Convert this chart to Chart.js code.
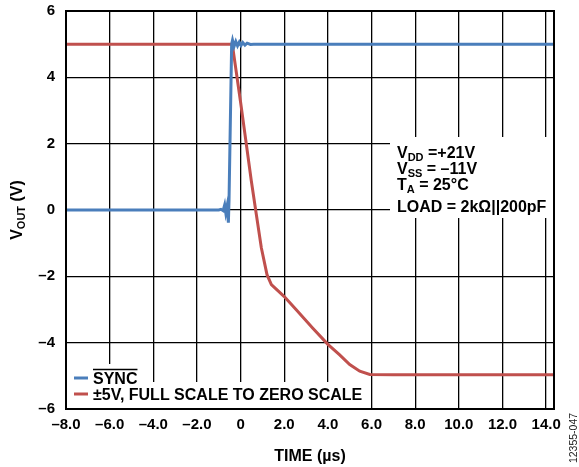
<!DOCTYPE html>
<html>
<head>
<meta charset="utf-8">
<script src="https://cdn.jsdelivr.net/npm/chart.js@4/dist/chart.umd.min.js"></script>
<style>
  body { margin: 0; background: #fff; }
  #wrap { width: 579px; height: 467px; }
</style>
</head>
<body>
<div id="wrap"><canvas id="c" width="579" height="467"></canvas></div>
<script>
// data
const syncTime = [-8, -1.0, -0.9, -0.8, -0.73, -0.68, -0.62, -0.56, -0.53, -0.41, -0.37, -0.3, -0.22, -0.14, -0.06, 0.02, 0.1, 0.2, 0.3, 0.45, 0.6, 14.36];
const syncVolts = [0, 0, 0.02, -0.02, 0.15, -0.08, 0.12, -0.38, 0.3, 5.0, 5.12, 4.93, 5.08, 4.95, 5.06, 4.96, 5.05, 4.97, 5.03, 4.99, 5.0, 5.0];

const outTime = [-8, -0.38, 0, 0.3, 0.49, 0.69, 0.95, 1.21, 1.41, 2.0, 2.55, 3.32, 4.0, 4.54, 5.0, 5.46, 5.92, 7.0, 14.36];
const outVolts = [5, 5, 3.25, 1.8, 0.88, 0, -1.14, -1.95, -2.25, -2.61, -3.01, -3.57, -4.05, -4.37, -4.66, -4.86, -4.96, -4.97, -4.97];

const xTicks = [-8, -6, -4, -2, 0, 2, 4, 6, 8, 10, 12, 14];
const xTickLabels = ["–8.0", "–6.0", "–4.0", "–2.0", "0", "2.0", "4.0", "6.0", "8.0", "10.0", "12.0", "14.0"];
const yTicks = [-6, -4, -2, 0, 2, 4, 6];
const yTickLabels = ["–6", "–4", "–2", "0", "2", "4", "6"];

const seriesNames = ["SYNC", "±5V, FULL SCALE TO ZERO SCALE"];
const seriesColors = ["#4a7ebb", "#c0504d"];

// [main, subscript, rest]
const conditions = [
  ["V", "DD", " =+21V"],
  ["V", "SS", " = –11V"],
  ["T", "A", " = 25°C"],
  ["LOAD = 2kΩ||200pF", "", ""]
];

const FONT = "'Liberation Sans', Arial, sans-serif";

const toPoints = (xs, ys) => xs.map((x, i) => ({ x: x, y: ys[i] }));

// draws text with a subscript part, returns end x
function subText(ctx, x, y, parts, size, subSize) {
  ctx.font = "bold " + size + "px " + FONT;
  ctx.fillText(parts[0], x, y);
  x += ctx.measureText(parts[0]).width;
  if (parts[1]) {
    ctx.font = "bold " + subSize + "px " + FONT;
    ctx.fillText(parts[1], x, y + 3);
    x += ctx.measureText(parts[1]).width;
  }
  if (parts[2]) {
    ctx.font = "bold " + size + "px " + FONT;
    ctx.fillText(parts[2], x, y);
    x += ctx.measureText(parts[2]).width;
  }
  return x;
}

const decorations = {
  id: "decorations",
  beforeDatasetsDraw(chart) {
    const ctx = chart.ctx;
    const a = chart.chartArea;
    // white boxes behind legend and condition text
    ctx.save();
    ctx.fillStyle = "#fff";
    ctx.fillRect(a.left + 1, 364, 74, 20);
    ctx.fillRect(a.left + 1, 382, 301, a.bottom - 382);
    ctx.fillRect(390, 137, a.right - 391, 81);
    ctx.restore();
  },
  afterDatasetsDraw(chart) {
    const ctx = chart.ctx;
    const a = chart.chartArea;
    ctx.save();
    // frame
    ctx.strokeStyle = "#000";
    ctx.lineWidth = 2;
    ctx.strokeRect(a.left, a.top, a.right - a.left, a.bottom - a.top);

    ctx.fillStyle = "#000";
    ctx.textBaseline = "alphabetic";
    ctx.textAlign = "left";

    // legend
    const legendY = [378, 394];
    const baseY = [384, 400];
    seriesNames.forEach((name, i) => {
      ctx.strokeStyle = seriesColors[i];
      ctx.lineWidth = 3;
      ctx.beginPath();
      ctx.moveTo(74, legendY[i]);
      ctx.lineTo(88, legendY[i]);
      ctx.stroke();
      ctx.font = "bold 16px " + FONT;
      ctx.fillText(name, 93, baseY[i]);
      if (i === 0) {
        const w = ctx.measureText(name).width;
        ctx.strokeStyle = "#000";
        ctx.lineWidth = 1.5;
        ctx.beginPath();
        ctx.moveTo(93, 369.5);
        ctx.lineTo(93 + w, 369.5);
        ctx.stroke();
      }
    });

    // test conditions
    const condY = [158, 174, 190, 212];
    conditions.forEach((c, i) => subText(ctx, 397, condY[i], c, 16, 11));

    // y axis title
    ctx.save();
    ctx.translate(16, (a.top + a.bottom) / 2);
    ctx.rotate(-Math.PI / 2);
    const yParts = ["V", "OUT", " (V)"];
    ctx.font = "bold 16px " + FONT;
    let w = ctx.measureText("V").width + ctx.measureText(" (V)").width;
    ctx.font = "bold 11px " + FONT;
    w += ctx.measureText("OUT").width;
    subText(ctx, -w / 2, 6, yParts, 16, 11);
    ctx.restore();

    // figure code
    ctx.save();
    ctx.translate(573, 438);
    ctx.rotate(-Math.PI / 2);
    ctx.textAlign = "center";
    ctx.font = "10.5px " + FONT;
    ctx.fillStyle = "#222";
    ctx.fillText("12355-047", 0, 4);
    ctx.restore();

    ctx.restore();
  }
};

new Chart(document.getElementById("c"), {
  type: "line",
  data: {
    datasets: [
      {
        label: seriesNames[0],
        data: toPoints(syncTime, syncVolts),
        borderColor: seriesColors[0],
        borderWidth: 3,
        pointRadius: 0,
        tension: 0
      },
      {
        label: seriesNames[1],
        data: toPoints(outTime, outVolts),
        borderColor: seriesColors[1],
        borderWidth: 3,
        pointRadius: 0,
        tension: 0
      }
    ]
  },
  options: {
    responsive: false,
    animation: false,
    layout: { padding: { top: 11, right: 25, left: 0, bottom: 0 } },
    plugins: {
      legend: { display: false },
      tooltip: { enabled: false }
    },
    scales: {
      x: {
        type: "linear",
        min: -8,
        max: 14.36,
        afterBuildTicks: (s) => { s.ticks = xTicks.map(v => ({ value: v })); },
        afterFit: (s) => { s.height = 58; s.paddingLeft = 0; s.paddingRight = 0; },
        ticks: {
          color: "#000",
          font: { family: FONT, size: 15, weight: "bold" },
          padding: 7,
          maxRotation: 0,
          callback: (v) => xTickLabels[xTicks.indexOf(v)]
        },
        grid: { color: "#000", lineWidth: 1.3, drawTicks: false },
        border: { display: false },
        title: {
          display: true,
          text: "TIME (µs)",
          color: "#000",
          font: { family: FONT, size: 16, weight: "bold" },
          padding: { top: 0, bottom: 1 }
        }
      },
      y: {
        type: "linear",
        min: -6,
        max: 6,
        afterBuildTicks: (s) => { s.ticks = yTicks.map(v => ({ value: v })); },
        afterFit: (s) => { s.width = 66; s.paddingTop = 0; s.paddingBottom = 0; },
        ticks: {
          color: "#000",
          font: { family: FONT, size: 15, weight: "bold" },
          padding: 11,
          callback: (v) => yTickLabels[yTicks.indexOf(v)]
        },
        grid: { color: "#000", lineWidth: 1.3, drawTicks: false },
        border: { display: false }
      }
    }
  },
  plugins: [decorations]
});
</script>
</body>
</html>
